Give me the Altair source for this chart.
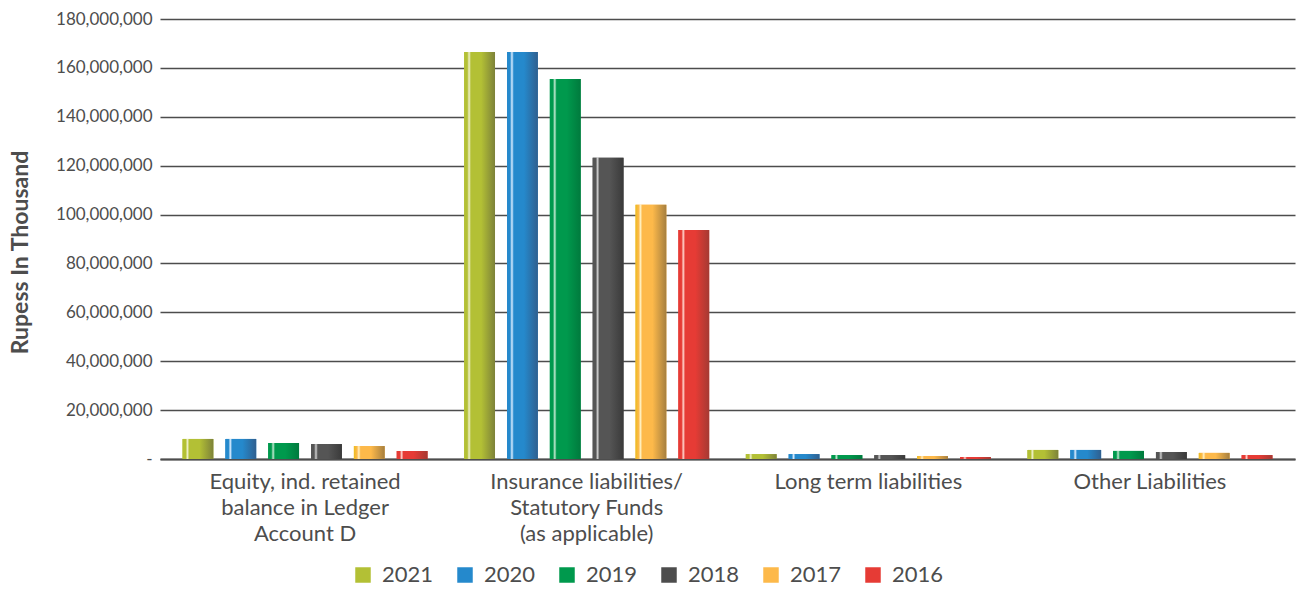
import altair as alt
import pandas as pd

categories = [
    "Equity, ind. retained|balance in Ledger|Account D",
    "Insurance liabilities/|Statutory Funds|(as applicable)",
    "Long term liabilities",
    "Other Liabilities",
]
years = ["2021", "2020", "2019", "2018", "2017", "2016"]

v2021 = [8200000, 166500000, 2000000, 3700000]
v2020 = [8200000, 166500000, 2000000, 3700000]
v2019 = [6500000, 155500000, 1600000, 3300000]
v2018 = [6100000, 123200000, 1600000, 2900000]
v2017 = [5300000, 104000000, 1200000, 2500000]
v2016 = [3300000, 93700000, 800000, 1600000]

y_ticks = [0, 20000000, 40000000, 60000000, 80000000,
           100000000, 120000000, 140000000, 160000000, 180000000]

series = {"2021": v2021, "2020": v2020, "2019": v2019,
          "2018": v2018, "2017": v2017, "2016": v2016}

base_colors = ["#b3c035", "#2589cc", "#00994d", "#4d4d4d", "#fdb94a", "#e63b35"]
body_colors = ["#b3c035", "#2589cc", "#00994d", "#555555", "#fdb94a", "#e63b35"]
highlight = ["#eef0c8", "#d9ecff", "#bfe8cf", "#cfcfcf", "#fff0c0", "#ffd0c8"]
dark = ["#7d8239", "#2f5f8f", "#007a3d", "#3a3a3a", "#a67f3f", "#a53a33"]
left_tint = ["#b3c035", "#2589cc", "#00994d", "#555555", "#ebbd1e", "#e63b35"]

rows = []
for y in years:
    for c, v in zip(categories, series[y]):
        rows.append({"category": c, "year": y, "value": v})
df = pd.DataFrame(rows)

TXT = "#4d4d4d"

x_enc = alt.X("category:N", sort=categories,
              scale=alt.Scale(paddingInner=0.13, paddingOuter=0.08),
              axis=alt.Axis(title=None, labelAngle=0, labelFontSize=22,
                            labelColor=TXT, labelLineHeight=26,
                            labelExpr="split(datum.label, '|')",
                            labelLimit=0, labelOverlap=False,
                            labelPadding=12, ticks=False, domain=True,
                            domainColor=TXT, domainWidth=2, grid=False,
                            labelFont="Lato"))
xo_enc = alt.XOffset("year:N", sort=years,
                     scale=alt.Scale(domain=years, paddingInner=0.28, paddingOuter=0))
y_enc = alt.Y("value:Q",
              scale=alt.Scale(domain=[0, 180000000], nice=False),
              axis=alt.Axis(title="Rupess In Thousand",
                            values=y_ticks, labelOverlap=False,
                            labelExpr="datum.value == 0 ? '-' : format(datum.value, ',')",
                            labelFontSize=17, labelColor=TXT, labelFont="Lato",
                            labelPadding=8, ticks=False, domain=False,
                            grid=True, gridColor="#4d4d4d", gridWidth=1.4,
                            titleFontSize=23, titleFontWeight="bold",
                            titleColor=TXT, titleFont="Lato",
                            titleX=-140, titleY=233, titleAngle=270,
                            titleAlign="center", titleBaseline="middle"))

base = alt.Chart(df).mark_bar().encode(
    x=x_enc, xOffset=xo_enc, y=y_enc,
    color=alt.Color("year:N", sort=years,
                    scale=alt.Scale(domain=years, range=base_colors),
                    legend=alt.Legend(title=None, orient="none",
                                      direction="horizontal",
                                      legendX=192, legendY=545,
                                      symbolType="square", symbolSize=240,
                                      symbolStrokeWidth=0,
                                      labelFontSize=22, labelColor=TXT,
                                      labelFont="Lato", labelOffset=8,
                                      columnPadding=20)),
)

layers = [base]
for i, y in enumerate(years):
    grad = alt.Gradient(
        gradient="linear",
        x1=0, x2=1, y1=0, y2=0,
        stops=[
            alt.GradientStop(offset=0, color=left_tint[i]),
            alt.GradientStop(offset=0.1, color=body_colors[i]),
            alt.GradientStop(offset=0.16, color=highlight[i]),
            alt.GradientStop(offset=0.22, color=body_colors[i]),
            alt.GradientStop(offset=0.55, color=body_colors[i]),
            alt.GradientStop(offset=1, color=dark[i]),
        ],
    )
    layers.append(
        alt.Chart(df).transform_filter(alt.datum.year == y)
        .mark_bar(fill=grad)
        .encode(x=x_enc, xOffset=xo_enc, y=y_enc)
    )

chart = alt.layer(*layers).properties(
    width=1135, height=440,
    autosize=alt.AutoSizeParams(type="none"),
    padding={"left": 160, "top": 19, "right": 5, "bottom": 132},
    background="white",
).configure_view(stroke=None)

chart.save("out.html", embed_options={"renderer": "svg", "actions": False})
